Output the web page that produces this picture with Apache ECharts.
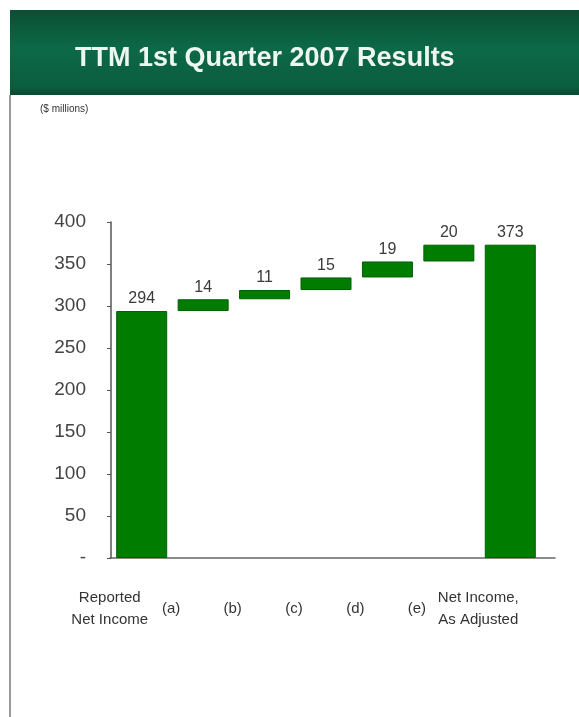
<!DOCTYPE html>
<html>
<head>
<meta charset="utf-8">
<script src="https://cdn.jsdelivr.net/npm/echarts@6/dist/echarts.min.js"></script>
<style>
  html, body { margin: 0; padding: 0; background: #fff; }
  #main { width: 579px; height: 717px; }
</style>
</head>
<body>
<div id="main"></div>
<script>
// waterfall data ($ millions)
const categories = ['Reported\nNet Income', '(a)', '(b)', '(c)', '(d)', '(e)', 'Net Income,\nAs Adjusted'];
const values = [294, 14, 11, 15, 19, 20, 373];
const isTotal = [true, false, false, false, false, false, true];
const yMin = 0, yMax = 400, yStep = 50;

// invisible base under each step bar
let run = 0;
const base = values.map(function (v, i) {
  if (isTotal[i]) { run = v; return 0; }
  const b = run;
  run += v;
  return b;
});

const chart = echarts.init(document.getElementById('main'));
const font = 'Arial, "Liberation Sans", sans-serif';

chart.setOption({
  animation: false,
  backgroundColor: '#fff',
  graphic: [
    {
      type: 'rect', z: -1,
      shape: { x: 10, y: 10, width: 569, height: 85 },
      style: {
        fill: new echarts.graphic.LinearGradient(0, 0, 0, 1, [
          { offset: 0, color: '#0a4f33' },
          { offset: 0.45, color: '#0c6947' },
          { offset: 0.9, color: '#0a5e3f' },
          { offset: 1, color: '#084a31' }
        ])
      }
    },
    {
      type: 'rect', z: -1,
      shape: { x: 9, y: 95, width: 2, height: 622 },
      style: { fill: '#9a9a9a' }
    },
    {
      type: 'text', left: 40, top: 104,
      style: { text: '($ millions)', fill: '#333', font: '10px ' + font }
    }
  ],
  title: {
    text: 'TTM 1st Quarter 2007 Results',
    left: 70, top: 40,
    textStyle: { color: '#eef6f1', fontSize: 27, fontWeight: 'bold', fontFamily: font }
  },
  grid: [
    { left: 111, right: 38, top: 222, bottom: 159, outerBoundsMode: 'none' },
    { left: 110, right: 24, top: 222, bottom: 159, outerBoundsMode: 'none' }
  ],
  xAxis: [
    {
      type: 'category', gridIndex: 0, data: categories,
      axisLine: { show: false },
      axisTick: { show: false },
      axisLabel: {
        interval: 0, color: '#333', fontSize: 15, fontFamily: font, lineHeight: 22,
        verticalAlign: 'middle', margin: 51, padding: [0, 64, 0, 0]
      }
    },
    {
      type: 'value', gridIndex: 1, min: 0, max: 1,
      axisLine: { show: true, lineStyle: { color: '#666', width: 1.5 } },
      axisTick: { show: false }, axisLabel: { show: false }, splitLine: { show: false }
    }
  ],
  yAxis: [
    {
      type: 'value', gridIndex: 0, min: yMin, max: yMax, interval: yStep,
      axisLine: { show: true, lineStyle: { color: '#555', width: 1.5 } },
      axisTick: { show: true, length: 4, lineStyle: { color: '#555' } },
      splitLine: { show: false },
      axisLabel: {
        color: '#444', fontSize: 19, fontFamily: font, margin: 25,
        formatter: function (v) { return v === 0 ? '-' : String(v); }
      }
    },
    {
      type: 'value', gridIndex: 1, min: 0, max: 1, show: false
    }
  ],
  series: [
    {
      type: 'bar', stack: 'w', data: base, barWidth: 51,
      itemStyle: { color: 'transparent' }, silent: true
    },
    {
      type: 'bar', stack: 'w', data: values, barWidth: 51,
      itemStyle: { color: '#007d00', borderColor: '#005f00', borderWidth: 1 },
      label: {
        show: true, position: 'top', distance: 4,
        color: '#3a3a3a', fontSize: 16, fontFamily: font
      }
    }
  ]
});
</script>
</body>
</html>
